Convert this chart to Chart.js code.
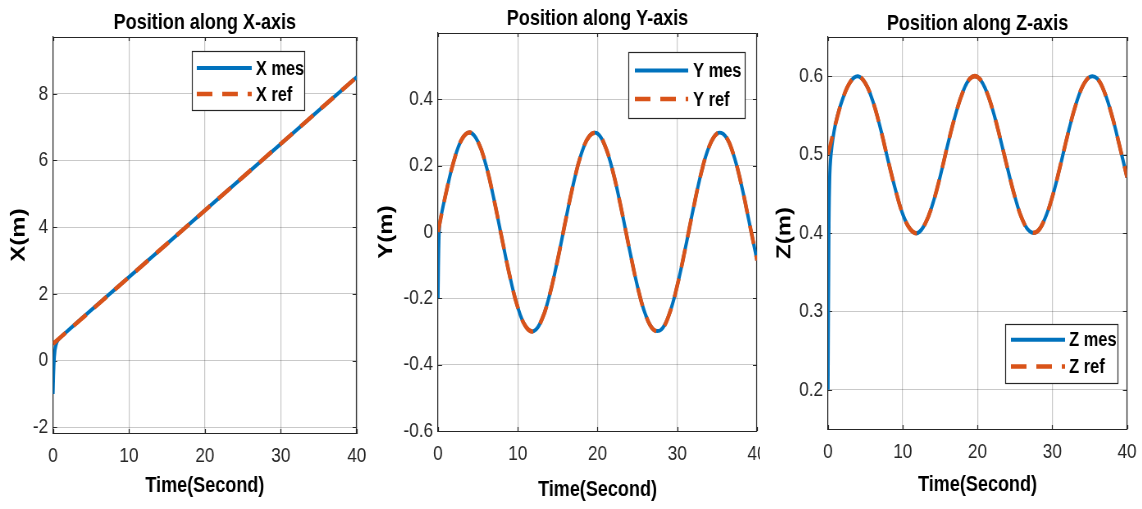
<!DOCTYPE html>
<html>
<head>
<meta charset="utf-8">
<script src="https://cdn.jsdelivr.net/npm/chart.js"></script>
<style>
body{margin:0;background:#fff;width:1142px;height:509px;overflow:hidden;position:relative}
.panel{position:absolute;top:0;height:509px;background:#fff;overflow:hidden}
/* the figure is horizontally compressed, like the exported MATLAB figure */
.squeeze{height:509px;transform:scaleX(0.82);transform-origin:0 0}
</style>
</head>
<body>
<div class="panel" style="left:0;width:370px"><div class="squeeze" style="width:451px"><canvas id="cx"></canvas></div></div>
<div class="panel" style="left:370px;width:400px"><div class="squeeze" style="width:488px"><canvas id="cy"></canvas></div></div>
<div class="panel" style="left:760px;width:382px"><div class="squeeze" style="width:466px"><canvas id="cz"></canvas></div></div>
<script>
// time grid (seconds) and the short start-up part of the measured traces
const timeSec=[0,1,2,3,4,5,6,7,8,9,10,11,12,13,14,15,16,17,18,19,20,21,22,23,24,25,26,27,28,29,30,31,32,33,34,35,36,37,38,39,40];
const startSec=[0,0.1,0.2,0.4];
const xTickVals=[0,10,20,30,40];

// X position
const xTime=[0,10,20,30,40];
const xRef=[0.5,2.5,4.5,6.5,8.5];
const xMesTime=[0,0.1,0.25,0.5,1,10,20,30,40];
const xMes=[-1.0,-0.2,0.3,0.55,0.7,2.5,4.5,6.5,8.5];
const xTicks=[-2,0,2,4,6,8];

// Y position
const yRef=[0,0.117,0.215,0.280,0.300,0.273,0.203,0.100,-0.018,-0.133,-0.227,-0.285,-0.299,-0.265,-0.189,-0.084,0.035,0.148,0.238,0.290,0.297,0.256,0.175,0.067,-0.052,-0.163,-0.248,-0.294,-0.294,-0.247,-0.161,-0.050,0.069,0.178,0.258,0.297,0.290,0.237,0.146,0.032,-0.086];
const yMesStart=[-0.2,-0.03,0.02,0.05];
const yTicks=[-0.6,-0.4,-0.2,0,0.2,0.4];

// Z position
const zRef=[0.5,0.539,0.572,0.593,0.600,0.591,0.568,0.534,0.494,0.456,0.424,0.405,0.400,0.412,0.437,0.472,0.512,0.549,0.579,0.597,0.599,0.585,0.558,0.522,0.483,0.446,0.417,0.402,0.402,0.418,0.446,0.483,0.523,0.559,0.586,0.599,0.597,0.579,0.549,0.511,0.471];
const zMesStart=[0.2,0.38,0.46,0.5];
const zTicks=[0.2,0.3,0.4,0.5,0.6];

const FONT="'Liberation Sans',Arial,sans-serif";
const BLUE='#0072BD', ORANGE='#D95319', AXIS='#262626', GRID='rgba(38,38,38,0.25)';

function pts(xs,ys){ return xs.map((x,i)=>({x:x,y:ys[i]})); }
// measured trace: start-up samples, then it sits on the reference
function mesPts(start,ref){ return pts(startSec,start).concat(pts(timeSec.slice(1),ref.slice(1))); }

Chart.defaults.font.family=FONT;
Chart.defaults.color=AXIS;

// box around the axes, inward ticks, and a MATLAB-like legend box
const matlabBox={
  id:'matlabBox',
  beforeDatasetsDraw(chart){
    const {ctx,chartArea:a,scales}=chart;
    const l=Math.round(a.left)+0.5, r=Math.round(a.right)-0.5, t=Math.round(a.top)+0.5;
    ctx.save();
    ctx.strokeStyle=AXIS;
    ctx.lineWidth=1;
    ctx.beginPath();ctx.moveTo(l,t);ctx.lineTo(r,t);ctx.stroke();
    ctx.lineWidth=1.2;
    ctx.beginPath();ctx.moveTo(r,t);ctx.lineTo(r,a.bottom);ctx.stroke();
    ctx.lineWidth=1;
    ctx.beginPath();
    scales.y.ticks.forEach(k=>{
      const p=Math.round(scales.y.getPixelForValue(k.value))+0.5;
      ctx.moveTo(a.left,p);ctx.lineTo(a.left+5,p);
      ctx.moveTo(a.right,p);ctx.lineTo(a.right-5,p);
    });
    ctx.stroke();
    ctx.lineWidth=1.2;
    ctx.beginPath();
    scales.x.ticks.forEach(k=>{
      const p=Math.round(scales.x.getPixelForValue(k.value))+0.5;
      ctx.moveTo(p,a.bottom);ctx.lineTo(p,a.bottom-4);
      ctx.moveTo(p,a.top);ctx.lineTo(p,a.top+4);
    });
    ctx.stroke();
    ctx.restore();
  },
  afterDatasetsDraw(chart,args,o){
    const {ctx,chartArea:a}=chart;
    const bx=Math.round(a.left+o.left), by=Math.round(a.top+o.top);
    ctx.save();
    ctx.fillStyle='#fff';
    ctx.fillRect(bx,by,o.width,o.height);
    ctx.strokeStyle=AXIS;ctx.lineWidth=1.2;
    ctx.strokeRect(bx+0.5,by+0.5,o.width,o.height);
    chart.data.datasets.forEach((ds,i)=>{
      const y=by+o.rows[i];
      ctx.beginPath();
      ctx.strokeStyle=ds.borderColor;ctx.lineWidth=ds.borderWidth;
      ctx.setLineDash(ds.borderDash||[]);
      ctx.moveTo(bx+o.lineX[0],y);ctx.lineTo(bx+o.lineX[1],y);
      ctx.stroke();
      ctx.setLineDash([]);
      ctx.fillStyle='#000';
      ctx.font='bold 20px '+FONT;
      ctx.textBaseline='middle';
      ctx.fillText(ds.label,bx+o.textX,y+1);
    });
    ctx.restore();
  }
};

function makePanel(id,p){
  return new Chart(document.getElementById(id),{
    type:'line',
    data:{datasets:[
      {label:p.names[0],data:p.mes,borderColor:BLUE,borderWidth:4,order:1},
      {label:p.names[1],data:p.ref,borderColor:ORANGE,borderWidth:4.5,borderDash:[19,12],order:0}
    ]},
    options:{
      animation:false,responsive:true,maintainAspectRatio:false,events:[],
      parsing:false,
      elements:{point:{radius:0},line:{tension:0.4}},
      layout:{padding:{left:0,top:0,right:p.padRight,bottom:p.padBottom}},
      plugins:{
        legend:{display:false},tooltip:{enabled:false},
        title:{display:true,text:p.title,fullSize:false,color:'#000',
          font:{size:22,weight:'bold',lineHeight:1.2},padding:p.titlePad},
        matlabBox:p.legend
      },
      scales:{
        x:{type:'linear',min:0,max:40,
          afterBuildTicks:s=>{s.ticks=xTickVals.map(v=>({value:v}));},
          afterFit:s=>{s.height=p.xHeight;s.paddingLeft=0;s.paddingRight=0;},
          ticks:{callback:v=>String(v),font:{size:21},padding:11,maxRotation:0,autoSkip:false},
          grid:{color:GRID,lineWidth:1.2,drawTicks:false},
          border:{display:true,color:AXIS,width:1},
          title:{display:true,text:'Time(Second)',color:'#000',font:{size:22,weight:'bold',lineHeight:1.2},padding:{top:0,bottom:0}}
        },
        y:{type:'linear',min:p.yMin,max:p.yMax,
          afterBuildTicks:s=>{s.ticks=p.yTicks.map(v=>({value:v}));},
          afterFit:s=>{s.width=p.yWidth;},
          ticks:{callback:v=>String(Math.round(v*100)/100),font:{size:21},padding:6,autoSkip:false},
          grid:{color:GRID,drawTicks:false},
          border:{display:true,color:AXIS,width:1.2},
          title:{display:true,text:p.yTitle,color:'#000',
            font:{size:24,weight:'bold',lineHeight:1.2},
            padding:{top:p.yTitlePad,bottom:0}}
        }
      }
    },
    plugins:[matlabBox]
  });
}

makePanel('cx',{
  title:'Position along X-axis',yTitle:'X(m)',names:['X mes','X ref'],
  mes:pts(xMesTime,xMes),ref:pts(xTime,xRef),
  yMin:-2.17,yMax:9.7,yTicks:xTicks,
  yWidth:64.6,padRight:15.9,padBottom:9.8,xHeight:66.2,
  titlePad:{top:10,bottom:0.6},yTitlePad:8.8,
  legend:{left:169,top:14,width:137,height:59,rows:[17,43],lineX:[6,73],textX:78}
});

makePanel('cy',{
  title:'Position along Y-axis',yTitle:'Y(m)',names:['Y mes','Y ref'],
  mes:mesPts(yMesStart,yRef),ref:pts(timeSec,yRef),
  yMin:-0.6,yMax:0.6,yTicks:yTicks,
  yWidth:82.9,padRight:16,padBottom:5.8,xHeight:72.2,
  titlePad:{top:6,bottom:0.6},yTitlePad:6,
  legend:{left:232,top:19.3,width:142,height:66,rows:[18.4,47],lineX:[8,73],textX:79}
});

makePanel('cz',{
  title:'Position along Z-axis',yTitle:'Z(m)',names:['Z mes','Z ref'],
  mes:mesPts(zMesStart,zRef),ref:pts(timeSec,zRef),
  yMin:0.15,yMax:0.65,yTicks:zTicks,
  yWidth:82.9,padRight:18.4,padBottom:10.8,xHeight:69.2,
  titlePad:{top:10.3,bottom:0.3},yTitlePad:16.1,
  legend:{left:216,top:287.3,width:137,height:59,rows:[15.7,42.4],lineX:[7,73],textX:78}
});
</script>
</body>
</html>
